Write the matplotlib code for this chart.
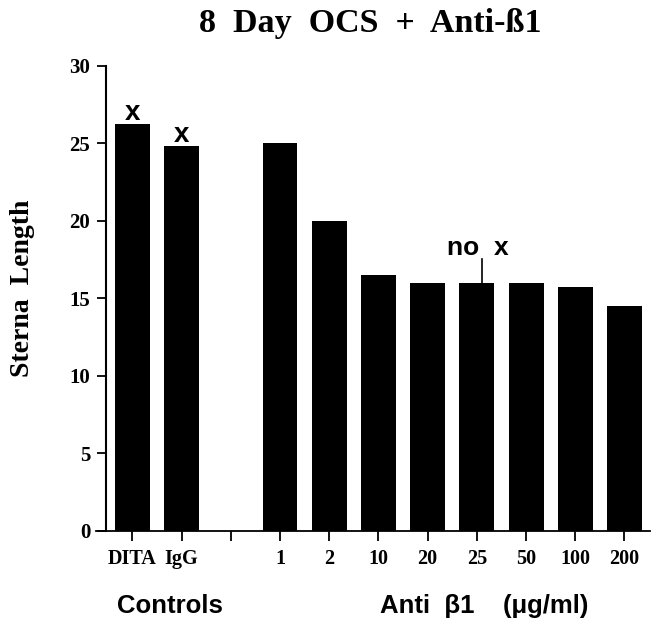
import numpy as np
import matplotlib
matplotlib.use("Agg")
from matplotlib import pyplot as plt
from matplotlib import transforms

# bar data
categories = ["DITA", "IgG", "", "1", "2", "10", "20", "25", "50", "100", "200"]
values = [26.2, 24.8, np.nan, 25.0, 20.0, 16.5, 16.0, 16.0, 16.0, 15.75, 14.5]
marked = ["DITA", "IgG"]          # bars with an "x" above
no_x_bar = "25"
y_ticks = [0, 5, 10, 15, 20, 25, 30]

serif = "Liberation Serif"
sans = "Liberation Sans"

fig = plt.figure(figsize=(6.55, 6.21), dpi=100)
ax = fig.add_axes([0.1466, 0.1454, 0.8458, 0.749])

pos = np.arange(len(categories))
ax.bar(pos, values, width=0.71, color="black")

ax.set_xlim(-0.74, 10.52)
ax.set_ylim(0, 30)

ax.spines["top"].set_visible(False)
ax.spines["right"].set_visible(False)
ax.spines["left"].set_position(("data", -0.535))
ax.spines["left"].set_linewidth(1.5)
ax.spines["bottom"].set_linewidth(1.3)

ax.set_xticks(pos)
ax.set_xticklabels(categories, fontfamily=serif, fontweight="bold", fontsize=14.5)
ax.set_yticks(y_ticks)
ax.set_yticklabels([str(v) for v in y_ticks], fontfamily=serif, fontweight="bold", fontsize=15)
ax.tick_params(axis="x", length=7, width=1.3, pad=6)
ax.tick_params(axis="y", length=6.5, width=1.3, pad=5)

# "x" marks over control bars
for name in marked:
    i = categories.index(name)
    ax.text(pos[i], values[i] + 0.3, "x", ha="center", va="baseline",
            fontfamily=sans, fontweight="bold", fontsize=20)

# "no x" with pointer line
i = categories.index(no_x_bar)
ax.plot([pos[i] + 0.1, pos[i] + 0.1], [values[i], values[i] + 1.55], color="black", lw=1.2)
ax.text(pos[i] + 0.03, values[i] + 1.79, "no  x", ha="center", va="baseline",
        fontfamily=sans, fontweight="bold", fontsize=19)

fig.text(0.565, 0.948, "8  Day  OCS  +  Anti-ß1", ha="center", va="baseline",
         fontfamily=serif, fontweight="bold", fontsize=24.5)
fig.text(0.035, 0.536, "Sterna  Length", ha="center", va="center", rotation=90,
         fontfamily=serif, fontweight="bold", fontsize=20)

trans = transforms.blended_transform_factory(ax.transData, fig.transFigure)
ax.text(0.77, 0.013, "Controls", transform=trans, ha="center", va="baseline",
        fontfamily=sans, fontweight="bold", fontsize=18.5)
ax.text(5.03, 0.013, "Anti  β1    (μg/ml)", transform=trans, ha="left", va="baseline",
        fontfamily=sans, fontweight="bold", fontsize=18.5)

fig.savefig("out.png", dpi=100)
